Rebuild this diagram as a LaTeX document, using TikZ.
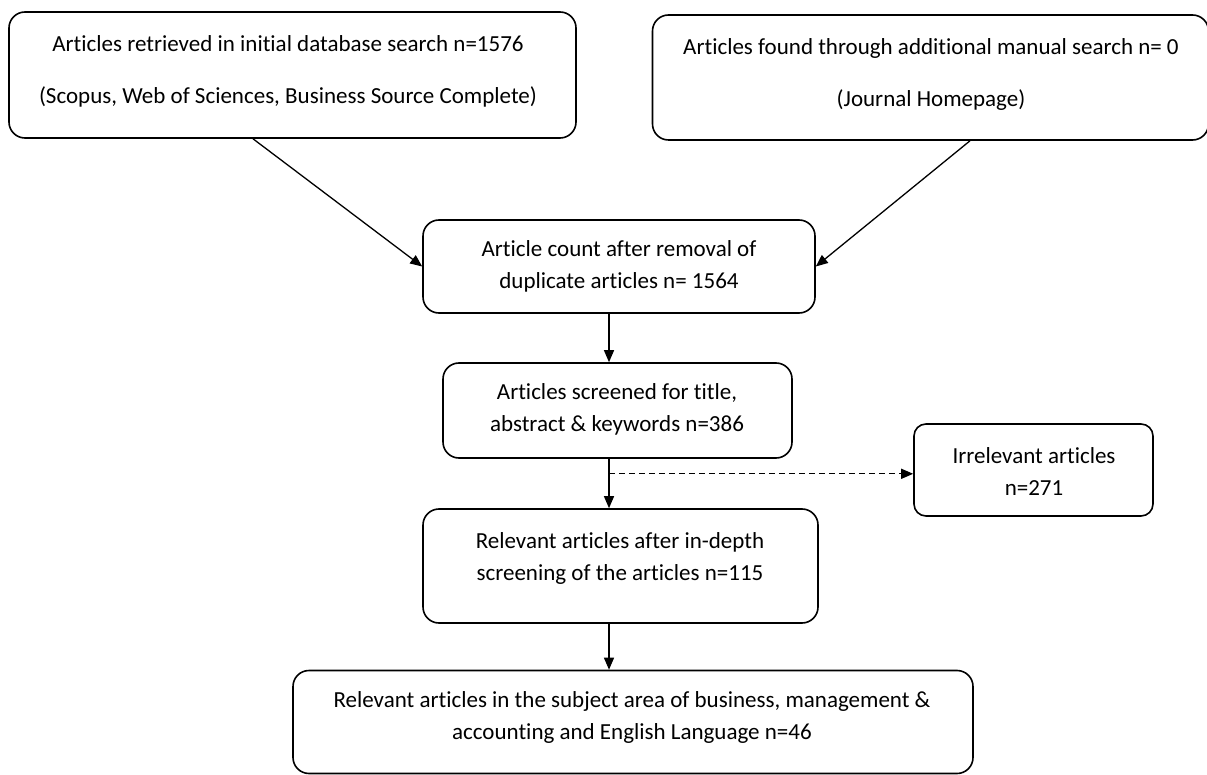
\documentclass[tikz,border=0pt]{standalone}
\usepackage{fontspec}
\setmainfont{Carlito}[Ligatures=NoCommon]
\usetikzlibrary{arrows.meta,calc}
\begin{document}
\begin{tikzpicture}[x=1pt,y=-1pt,
  boxshape/.style={draw, line width=1.6pt, rounded corners=16pt, inner sep=0pt},
  smallbox/.style={boxshape, rounded corners=12pt},
  txt/.style={align=center, inner sep=0pt, font=\fontsize{23}{32}\selectfont},
  txtwide/.style={align=center, inner sep=0pt, font=\fontsize{23}{52}\selectfont},
  arr/.style={line width=1.3pt, -{Triangle[length=12pt,width=10pt]}},
  darr/.style={arr, dash pattern=on 6pt off 4pt}]
\useasboundingbox (0,0) rectangle (1207,775);
% boxes
\node[boxshape, minimum width=567pt, minimum height=126pt] (bA) at (292.5,75) {};
\node[boxshape, minimum width=556pt, minimum height=125pt] (bB) at (930.5,77.5) {};
\node[boxshape, minimum width=392pt, minimum height=93pt] (bC) at (619,266.5) {};
\node[boxshape, minimum width=349pt, minimum height=95pt] (bD) at (617.5,410.5) {};
\node[smallbox, minimum width=239pt, minimum height=92pt] (bE) at (1033.5,470) {};
\node[boxshape, minimum width=395pt, minimum height=114pt] (bF) at (620.5,566) {};
\node[boxshape, minimum width=680pt, minimum height=103pt] (bG) at (633,722) {};
% texts
\node[txtwide] (tA) at (288,71.5) {Articles retrieved in initial database search n=1576\\(Scopus, Web of Sciences, Business Source Complete)};
\node[txtwide] (tB) at (931,74) {Articles found through additional manual search n= 0\\(Journal Homepage)};
\node[txt] (tC) at (619,266.5) {Article count after removal of\\duplicate articles n= 1564};
\node[txt] (tD) at (617,409.5) {Articles screened for title,\\abstract \& keywords n=386};
\node[txt] (tE) at (1034,471.5) {Irrelevant articles\\n=271};
\node[txt] (tF) at (620,558) {Relevant articles after in-depth\\screening of the articles n=115};
\node[txt] (tG) at (632,717) {Relevant articles in the subject area of business, management \&\\accounting and English Language n=46};
% connectors
\coordinate (ax) at ([xshift=-10pt]bC.south);
\coordinate (m) at ($(ax |- bD.south)+(0,15)$);
\draw[arr] ([xshift=-39.5pt]bA.south) -- (bC.west);
\draw[arr] ([xshift=39.5pt]bB.south) -- (bC.east);
\draw[arr] (ax) -- (ax |- bD.north);
\draw[arr] (ax |- bD.south) -- (ax |- bF.north);
\draw[darr] (m) -- (bE.west |- m);
\draw[arr] (ax |- bF.south) -- (ax |- bG.north);
\end{tikzpicture}
\end{document}
